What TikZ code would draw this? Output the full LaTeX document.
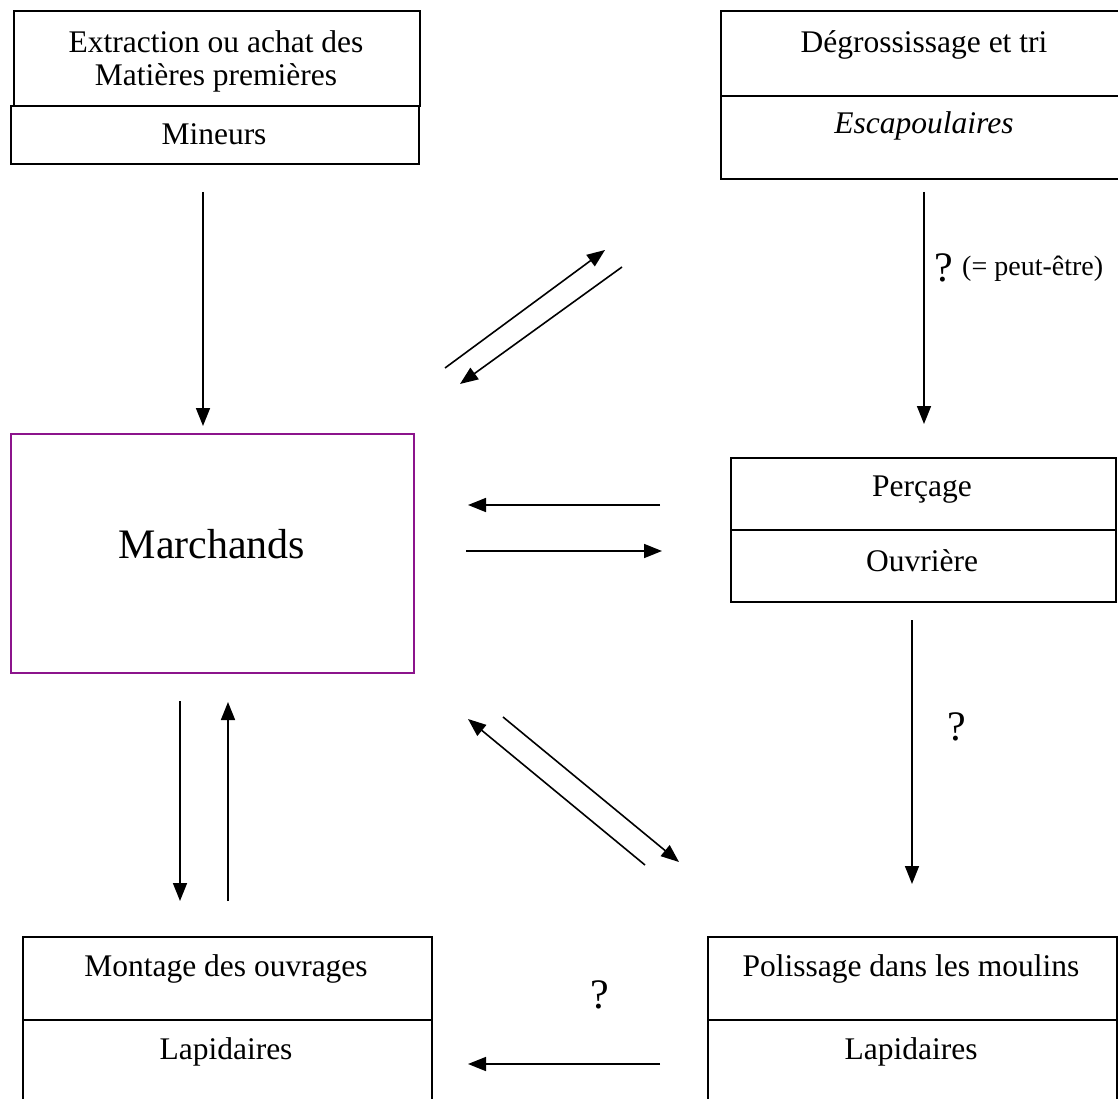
\documentclass[tikz,border=0pt]{standalone}
\usepackage{fontspec}
\setmainfont{Liberation Serif}
\usetikzlibrary{arrows.meta}
\definecolor{mpurple}{RGB}{140,20,140}
\tikzset{
  part/.style={draw=black, line width=1.9pt, rectangle, inner sep=0pt, anchor=north west},
  lbl/.style={inner sep=0pt, anchor=base, font=\fontsize{31.5}{36}\selectfont},
  qlbl/.style={inner sep=0pt, anchor=base, font=\fontsize{42}{48}\selectfont},
  small/.style={inner sep=0pt, anchor=base west, font=\fontsize{28}{32}\selectfont},
  conn/.style={line width=1.6pt, -{Triangle[length=18pt,width=14pt]}},
}
\begin{document}
\begin{tikzpicture}[x=1pt,y=-1pt]
\clip (0,0) rectangle (1118,1099);
\fill[white] (0,0) rectangle (1118,1099);

% Extraction box
\node[part, minimum width=406pt, minimum height=95pt] (exttop) at (13,10) {};
\node[part, minimum width=408pt, minimum height=58pt] (extbot) at (10,105) {};
\node[lbl] (ext1) at (216,53) {Extraction ou achat des};
\node[lbl] (ext2) at (216,86) {Matières premières};
\node[lbl] (min) at (214,145) {Mineurs};

% Degrossissage box
\node[part, minimum width=408pt, minimum height=85pt] (degtop) at (720,10) {};
\node[part, minimum width=408pt, minimum height=83pt] (degbot) at (720,95) {};
\node[lbl] (deg) at (924,53) {Dégrossissage et tri};
\node[lbl] (esc) at (924,134) {\itshape Escapoulaires};

% Marchands
\node[draw=mpurple, line width=1.9pt, rectangle, anchor=north west, minimum width=403pt, minimum height=239pt, inner sep=0pt] (march) at (10,433) {};
\node[qlbl] (marcht) at (212,558) {Marchands};

% Percage box
\node[part, minimum width=385pt, minimum height=72pt] (pertop) at (730,457) {};
\node[part, minimum width=385pt, minimum height=72pt] (perbot) at (730,529) {};
\node[lbl] (per) at (922,496) {Perçage};
\node[lbl] (ouv) at (922,571) {Ouvrière};

% Montage box
\node[part, minimum width=409pt, minimum height=83pt] (montop) at (22,936) {};
\node[part, minimum width=409pt, minimum height=85pt] (monbot) at (22,1019) {};
\node[lbl] (mon) at (226,976) {Montage des ouvrages};
\node[lbl] (lap1) at (226,1059) {Lapidaires};

% Polissage box
\node[part, minimum width=409pt, minimum height=83pt] (poltop) at (707,936) {};
\node[part, minimum width=409pt, minimum height=85pt] (polbot) at (707,1019) {};
\node[lbl] (pol) at (911,976) {Polissage dans les moulins};
\node[lbl] (lap2) at (911,1059) {Lapidaires};

% labels
\node[qlbl, anchor=base west] (q1) at (934,281) {?};
\node[small] (pe) at (962,276) {(= peut-être)};
\node[qlbl] (q2) at (957,740) {?};
\node[qlbl] (q3) at (600,1008) {?};

% arrow end points
\coordinate (a1s) at (203,192); \coordinate (a1e) at (203,426);
\coordinate (a2s) at (445,368); \coordinate (a2e) at (605,250);
\coordinate (a3s) at (622,267); \coordinate (a3e) at (460,384);
\coordinate (a4s) at (924,192); \coordinate (a4e) at (924,424);
\coordinate (a5s) at (660,505); \coordinate (a5e) at (468,505);
\coordinate (a6s) at (466,551); \coordinate (a6e) at (662,551);
\coordinate (a7s) at (180,701); \coordinate (a7e) at (180,901);
\coordinate (a8s) at (228,901); \coordinate (a8e) at (228,702);
\coordinate (a9s) at (645,865); \coordinate (a9e) at (468,719);
\coordinate (a10s) at (503,717); \coordinate (a10e) at (679,862);
\coordinate (a11s) at (912,620); \coordinate (a11e) at (912,884);
\coordinate (a12s) at (660,1064); \coordinate (a12e) at (468,1064);

\foreach \i in {1,...,12} {\draw[conn] (a\i s) -- (a\i e);}
\end{tikzpicture}
\end{document}
